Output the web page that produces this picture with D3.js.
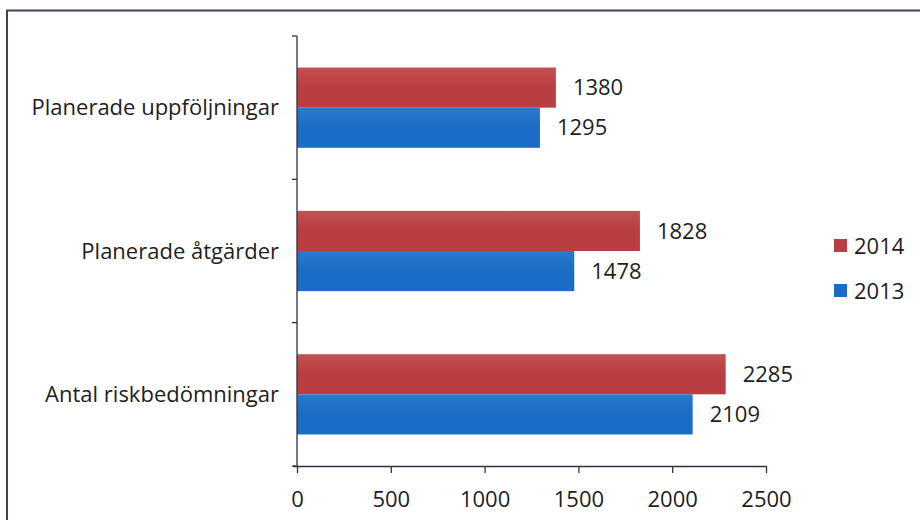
<!DOCTYPE html>
<html>
<head>
<meta charset="utf-8">
<script src="https://cdn.jsdelivr.net/npm/d3@7"></script>
<style>
  html, body { margin: 0; padding: 0; background: #fff; }
  svg { display: block; }
  text { font-family: "Open Sans", Lato, sans-serif; fill: #1e1e1e; }
</style>
</head>
<body>
<svg id="chart" width="920" height="520"></svg>
<script>
// Categories, top to bottom
const categories = ["Planerade uppföljningar", "Planerade åtgärder", "Antal riskbedömningar"];
// Series values per category
const values2014 = [1380, 1828, 2285];
const values2013 = [1295, 1478, 2109];
const seriesNames = ["2014", "2013"];
const xTicks = [0, 500, 1000, 1500, 2000, 2500];

const series = [
  { name: seriesNames[0], values: values2014, color: "#b93d41", light: "#c45052" },
  { name: seriesNames[1], values: values2013, color: "#1b6cc4", light: "#2a79cd" }
];

const svg = d3.select("#chart");
const margin = { left: 297, right: 154, top: 36, bottom: 54 };
const W = 920, H = 520;
const FONT = 22;

// Outer frame
svg.append("path")
  .attr("d", `M7,${H} V10.5 H${W}`)
  .attr("fill", "none")
  .attr("stroke", "#3b4656")
  .attr("stroke-width", 2);

// Subtle bar gradients
const defs = svg.append("defs");
series.forEach((s, i) => {
  const g = defs.append("linearGradient")
    .attr("id", "grad" + i)
    .attr("x1", 0).attr("y1", 0).attr("x2", 0).attr("y2", 1);
  g.append("stop").attr("offset", "0%").attr("stop-color", s.light);
  g.append("stop").attr("offset", "50%").attr("stop-color", s.color);
  g.append("stop").attr("offset", "100%").attr("stop-color", s.color);
});

const x = d3.scaleLinear().domain([0, 2500]).range([margin.left, W - margin.right]);
const y = d3.scaleBand().domain(categories).range([margin.top, H - margin.bottom]).paddingInner(0.44).paddingOuter(0.22);
const ySub = d3.scaleBand().domain(seriesNames).range([0, y.bandwidth()]);

// Bars
const groups = svg.append("g").selectAll("g")
  .data(categories)
  .join("g")
  .attr("transform", d => `translate(0,${y(d)})`);

series.forEach((s, si) => {
  groups.append("rect")
    .attr("x", x(0))
    .attr("y", ySub(s.name))
    .attr("width", (d, i) => x(s.values[i]) - x(0))
    .attr("height", ySub.bandwidth())
    .attr("fill", `url(#grad${si})`);
  groups.append("text")
    .attr("x", (d, i) => x(s.values[i]) + 17)
    .attr("y", ySub(s.name) + ySub.bandwidth() / 2)
    .attr("dy", "0.35em")
    .attr("font-size", FONT)
    .text((d, i) => s.values[i]);
});

// Y axis with ticks at category boundaries
const yAxisG = svg.append("g");
yAxisG.append("line")
  .attr("x1", x(0)).attr("x2", x(0))
  .attr("y1", margin.top).attr("y2", H - margin.bottom)
  .attr("stroke", "#2b3340").attr("stroke-width", 1.3);
const step = (H - margin.bottom - margin.top) / categories.length;
d3.range(categories.length + 1).forEach(i => {
  const yy = margin.top + i * step;
  yAxisG.append("line")
    .attr("x1", x(0) - 5).attr("x2", x(0))
    .attr("y1", yy).attr("y2", yy)
    .attr("stroke", "#2b3340").attr("stroke-width", 1.3);
});
yAxisG.selectAll("text.cat")
  .data(categories)
  .join("text")
  .attr("class", "cat")
  .attr("x", x(0) - 18)
  .attr("y", d => y(d) + y.bandwidth() / 2)
  .attr("dy", "0.35em")
  .attr("text-anchor", "end")
  .attr("font-size", FONT)
  .text(d => d);

// X axis
const xAxis = d3.axisBottom(x).tickValues(xTicks).tickFormat(d3.format("d"))
  .tickSize(7).tickSizeOuter(0).tickPadding(18);
const xg = svg.append("g")
  .attr("transform", `translate(0,${H - margin.bottom})`)
  .call(xAxis);
xg.select(".domain").attr("stroke", "#2b3340").attr("stroke-width", 1.3)
  .attr("d", `M${x(0) - 4},0.5H${x(2500)}`);
xg.selectAll(".tick line").attr("stroke", "#2b3340").attr("stroke-width", 1.3);
xg.selectAll(".tick text")
  .attr("font-size", FONT)
  .attr("font-family", "'Open Sans', Lato, sans-serif")
  .attr("fill", "#1e1e1e");

// Legend
const legend = svg.append("g").attr("transform", "translate(834,246)");
series.forEach((s, i) => {
  const gy = i * 45;
  legend.append("rect")
    .attr("x", 0).attr("y", gy - 7)
    .attr("width", 13).attr("height", 13)
    .attr("fill", s.color);
  legend.append("text")
    .attr("x", 20).attr("y", gy)
    .attr("dy", "0.35em")
    .attr("font-size", FONT)
    .text(s.name);
});
</script>
</body>
</html>
